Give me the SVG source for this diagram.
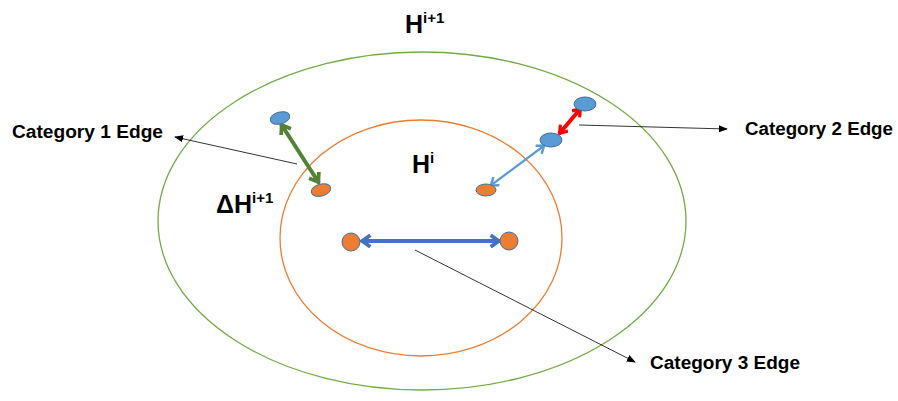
<svg xmlns="http://www.w3.org/2000/svg" width="898" height="401" viewBox="0 0 898 401">
<defs>
<style>
.lbl{font-family:"Liberation Sans",Arial,sans-serif;font-weight:bold;font-size:18px;fill:#000}
.big{font-family:"Liberation Sans",Arial,sans-serif;font-weight:bold;font-size:25px;fill:#000}
.sup{font-size:15px}
.bnode{fill:#5B9BD5;stroke:#41719C;stroke-width:1}
.onode{fill:#ED7D31;stroke:#41719C;stroke-width:1}
.thin{stroke:#000;stroke-width:0.8;fill:none}
</style>
<marker id="tri" viewBox="0 0 10 10" refX="9" refY="5" markerWidth="9" markerHeight="9" markerUnits="userSpaceOnUse" orient="auto">
<path d="M0,1 L10,5 L0,9 Z" fill="#000"/>
</marker>
<marker id="vg" viewBox="0 0 12 12" refX="11" refY="6" markerWidth="14" markerHeight="14" markerUnits="userSpaceOnUse" orient="auto-start-reverse">
<path d="M3,1 L10,6 L3,11" fill="none" stroke="#548235" stroke-width="3.2"/>
</marker>
<marker id="vr" viewBox="0 0 12 12" refX="11" refY="6" markerWidth="12" markerHeight="12" markerUnits="userSpaceOnUse" orient="auto-start-reverse">
<path d="M3,1 L10,6 L3,11" fill="none" stroke="#FF0000" stroke-width="3.2"/>
</marker>
<marker id="vb" viewBox="0 0 12 12" refX="11" refY="6" markerWidth="14" markerHeight="14" markerUnits="userSpaceOnUse" orient="auto-start-reverse">
<path d="M3,1 L10,6 L3,11" fill="none" stroke="#4472C4" stroke-width="3.2"/>
</marker>
<marker id="vl" viewBox="0 0 12 12" refX="11" refY="6" markerWidth="12" markerHeight="12" markerUnits="userSpaceOnUse" orient="auto-start-reverse">
<path d="M3,1 L10,6 L3,11" fill="none" stroke="#5B9BD5" stroke-width="2.4"/>
</marker>
</defs>
<rect width="898" height="401" fill="#fff"/>
<g id="outer-region">
<ellipse cx="422" cy="221" rx="264" ry="169" fill="none" stroke="#70AD47" stroke-width="1.3"/>
<text class="big" x="405" y="33">H<tspan class="sup" dy="-10">i+1</tspan></text>
</g>
<g id="inner-region">
<ellipse cx="421" cy="238" rx="141" ry="118" fill="none" stroke="#ED7D31" stroke-width="1.3"/>
<text class="big" x="412" y="173">H<tspan class="sup" dy="-10">i</tspan></text>
</g>
<g id="delta-label">
<text class="big" x="216" y="213">ΔH<tspan class="sup" dy="-10">i+1</tspan></text>
</g>
<g id="connectors">
<line x1="281" y1="124" x2="319" y2="183" stroke="#548235" stroke-width="4" marker-start="url(#vg)" marker-end="url(#vg)"/>
<line x1="490" y1="186" x2="545" y2="145" stroke="#5B9BD5" stroke-width="2.2" marker-start="url(#vl)" marker-end="url(#vl)"/>
<line x1="559" y1="134" x2="581" y2="108" stroke="#FF0000" stroke-width="4" marker-start="url(#vr)" marker-end="url(#vr)"/>
<line x1="361" y1="241" x2="500" y2="241" stroke="#4472C4" stroke-width="4" marker-start="url(#vb)" marker-end="url(#vb)"/>
<line class="thin" x1="297" y1="164" x2="175" y2="137" marker-end="url(#tri)"/>
<line class="thin" x1="579" y1="125" x2="727" y2="129" marker-end="url(#tri)"/>
<line class="thin" x1="415" y1="250" x2="635" y2="362" marker-end="url(#tri)"/>
</g>
<g id="n1"><ellipse class="bnode" cx="280" cy="118" rx="10" ry="6" transform="rotate(-15 280 118)"/></g>
<g id="n2"><ellipse class="onode" cx="321" cy="190" rx="10" ry="6" transform="rotate(-15 321 190)"/></g>
<g id="n3"><circle class="onode" cx="351" cy="242" r="9"/></g>
<g id="n4"><circle class="onode" cx="509" cy="241" r="9"/></g>
<g id="n5"><ellipse class="bnode" cx="585" cy="104" rx="11" ry="7"/></g>
<g id="n6"><ellipse class="bnode" cx="551" cy="140" rx="11" ry="7"/></g>
<g id="n7"><ellipse class="onode" cx="486" cy="190" rx="10" ry="6"/></g>
<g id="labels">
<text class="lbl" x="12" y="138" textLength="151" lengthAdjust="spacingAndGlyphs">Category 1 Edge</text>
<text class="lbl" x="745" y="135" textLength="148" lengthAdjust="spacingAndGlyphs">Category 2 Edge</text>
<text class="lbl" x="650" y="369" textLength="150" lengthAdjust="spacingAndGlyphs">Category 3 Edge</text>
</g>
</svg>
